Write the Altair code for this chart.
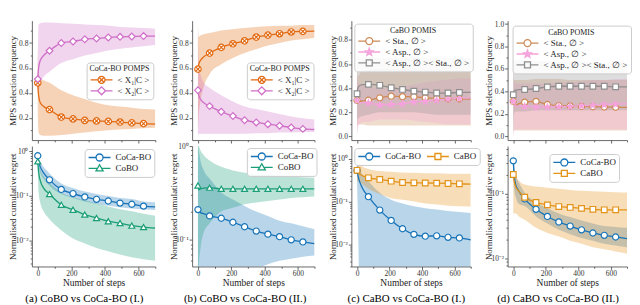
import altair as alt
import pandas as pd

FONT = "Liberation Serif"

STEPS = [0, 5, 15, 35, 70, 140, 210, 280, 350, 420, 490, 560, 630, 700]

# ---------------- (a) top: CoCa-BO POMPS ----------------
A_X1_MEAN = [0.48, 0.38, 0.32, 0.29, 0.265, 0.205, 0.19, 0.178, 0.174, 0.17, 0.165, 0.158, 0.152, 0.148]
A_X1_LO = [0.22, 0.08, 0.06, 0.055, 0.055, 0.06, 0.07, 0.08, 0.09, 0.10, 0.105, 0.11, 0.115, 0.12]
A_X1_HI = [0.76, 0.56, 0.52, 0.50, 0.48, 0.42, 0.38, 0.35, 0.32, 0.30, 0.29, 0.28, 0.27, 0.265]
A_X2_MEAN = [0.51, 0.60, 0.66, 0.70, 0.738, 0.80, 0.813, 0.83, 0.837, 0.845, 0.85, 0.853, 0.856, 0.856]
A_X2_LO = [0.42, 0.42, 0.48, 0.53, 0.57, 0.64, 0.67, 0.70, 0.72, 0.74, 0.755, 0.765, 0.775, 0.785]
A_X2_HI = [0.60, 0.95, 0.96, 0.965, 0.965, 0.96, 0.955, 0.95, 0.945, 0.94, 0.93, 0.925, 0.92, 0.915]

# ---------------- (b) top ----------------
B_X1_MEAN = [0.59, 0.63, 0.66, 0.69, 0.719, 0.765, 0.794, 0.818, 0.848, 0.864, 0.875, 0.889, 0.894, 0.896]
B_X1_LO = [0.10, 0.22, 0.33, 0.45, 0.55, 0.63, 0.68, 0.72, 0.75, 0.78, 0.80, 0.82, 0.83, 0.84]
B_X1_HI = [0.95, 0.85, 0.86, 0.87, 0.88, 0.90, 0.91, 0.92, 0.93, 0.935, 0.94, 0.94, 0.945, 0.945]
B_X2_MEAN = [0.42, 0.38, 0.35, 0.32, 0.293, 0.248, 0.213, 0.18, 0.162, 0.148, 0.135, 0.121, 0.11, 0.105]
B_X2_LO = [0.05, 0.07, 0.07, 0.07, 0.07, 0.07, 0.07, 0.07, 0.075, 0.075, 0.08, 0.08, 0.085, 0.085]
B_X2_HI = [0.90, 0.62, 0.55, 0.48, 0.44, 0.38, 0.33, 0.29, 0.27, 0.25, 0.23, 0.21, 0.195, 0.185]

# ---------------- (c) top: CaBO POMIS ----------------
C_STA_MEAN = [0.30, 0.285, 0.29, 0.295, 0.30, 0.32, 0.334, 0.33, 0.33, 0.32, 0.315, 0.312, 0.312, 0.31]
C_STA_LO = [0.0, 0.10, 0.10, 0.10, 0.09, 0.09, 0.09, 0.09, 0.09, 0.09, 0.09, 0.09, 0.09, 0.09]
C_STA_HI = [0.60, 0.50, 0.52, 0.54, 0.55, 0.56, 0.56, 0.56, 0.56, 0.55, 0.55, 0.55, 0.54, 0.54]
C_ASP_MEAN = [0.30, 0.28, 0.28, 0.28, 0.278, 0.26, 0.265, 0.27, 0.285, 0.29, 0.30, 0.31, 0.315, 0.32]
C_ASP_LO = [0.0, 0.08, 0.10, 0.12, 0.12, 0.14, 0.14, 0.14, 0.13, 0.12, 0.11, 0.10, 0.10, 0.10]
C_ASP_HI = [0.60, 0.45, 0.44, 0.43, 0.42, 0.40, 0.40, 0.41, 0.43, 0.45, 0.46, 0.47, 0.48, 0.48]
C_BOTH_MEAN = [0.354, 0.40, 0.42, 0.43, 0.432, 0.424, 0.404, 0.39, 0.376, 0.368, 0.36, 0.36, 0.365, 0.365]
C_BOTH_LO = [0.0, 0.15, 0.16, 0.17, 0.18, 0.20, 0.20, 0.20, 0.20, 0.19, 0.18, 0.18, 0.18, 0.18]
C_BOTH_HI = [0.70, 0.66, 0.66, 0.66, 0.66, 0.65, 0.65, 0.65, 0.65, 0.65, 0.65, 0.65, 0.65, 0.65]

# ---------------- (d) top ----------------
D_STA_MEAN = [0.312, 0.28, 0.275, 0.29, 0.303, 0.31, 0.282, 0.273, 0.27, 0.265, 0.262, 0.26, 0.258, 0.257]
D_STA_LO = [0.0, 0.05, 0.05, 0.05, 0.05, 0.05, 0.05, 0.05, 0.05, 0.05, 0.05, 0.05, 0.05, 0.05]
D_STA_HI = [0.60, 0.50, 0.50, 0.50, 0.50, 0.51, 0.51, 0.51, 0.50, 0.50, 0.50, 0.50, 0.50, 0.50]
D_ASP_MEAN = [0.31, 0.28, 0.27, 0.265, 0.265, 0.26, 0.26, 0.262, 0.265, 0.27, 0.275, 0.28, 0.285, 0.29]
D_ASP_LO = [0.0, 0.05, 0.06, 0.06, 0.06, 0.06, 0.06, 0.06, 0.06, 0.06, 0.06, 0.06, 0.06, 0.06]
D_ASP_HI = [0.60, 0.48, 0.47, 0.47, 0.47, 0.47, 0.47, 0.48, 0.48, 0.49, 0.50, 0.50, 0.51, 0.51]
D_BOTH_MEAN = [0.37, 0.40, 0.41, 0.415, 0.416, 0.425, 0.439, 0.445, 0.445, 0.445, 0.445, 0.445, 0.44, 0.44]
D_BOTH_LO = [0.0, 0.20, 0.22, 0.22, 0.22, 0.23, 0.23, 0.23, 0.23, 0.23, 0.23, 0.23, 0.23, 0.23]
D_BOTH_HI = [0.70, 0.68, 0.68, 0.68, 0.68, 0.67, 0.67, 0.66, 0.66, 0.66, 0.66, 0.65, 0.65, 0.65]

# ---------------- (a) bottom: regret ----------------
E_COCA_MEAN = [0.8, 0.6, 0.45, 0.33, 0.23, 0.14, 0.113, 0.095, 0.084, 0.077, 0.069, 0.065, 0.059, 0.057]
E_COCA_LO = [0.6, 0.45, 0.33, 0.24, 0.17, 0.11, 0.09, 0.075, 0.066, 0.06, 0.056, 0.052, 0.05, 0.048]
E_COCA_HI = [1.1, 0.8, 0.6, 0.45, 0.32, 0.19, 0.15, 0.125, 0.11, 0.1, 0.09, 0.085, 0.075, 0.072]
E_COBO_MEAN = [0.6, 0.35, 0.22, 0.15, 0.11, 0.063, 0.049, 0.038, 0.032, 0.027, 0.0245, 0.0215, 0.02, 0.019]
E_COBO_LO = [0.35, 0.12, 0.07, 0.045, 0.03, 0.017, 0.011, 0.0085, 0.0068, 0.0057, 0.0048, 0.0042, 0.0038, 0.0035]
E_COBO_HI = [0.9, 0.6, 0.4, 0.28, 0.2, 0.12, 0.095, 0.08, 0.068, 0.058, 0.05, 0.045, 0.04, 0.036]

# ---------------- (b) bottom ----------------
F_COCA_MEAN = [0.21, 0.2, 0.195, 0.19, 0.18, 0.17, 0.154, 0.138, 0.124, 0.115, 0.108, 0.1, 0.095, 0.091]
F_COCA_LO = [0.01, 0.01, 0.01, 0.01, 0.01, 0.02, 0.03, 0.04, 0.048, 0.055, 0.06, 0.063, 0.066, 0.068]
F_COCA_HI = [1.0, 0.9, 0.7, 0.55, 0.45, 0.32, 0.27, 0.23, 0.2, 0.18, 0.16, 0.15, 0.14, 0.13]
F_COBO_MEAN = [0.38, 0.34, 0.35, 0.355, 0.36, 0.35, 0.35, 0.35, 0.35, 0.35, 0.35, 0.35, 0.35, 0.35]
F_COBO_LO = [0.02, 0.05, 0.08, 0.12, 0.15, 0.2, 0.22, 0.24, 0.25, 0.26, 0.27, 0.28, 0.285, 0.29]
F_COBO_HI = [1.0, 1.0, 0.9, 0.8, 0.7, 0.6, 0.55, 0.52, 0.5, 0.49, 0.48, 0.47, 0.465, 0.46]

# ---------------- (c) bottom ----------------
G_COCA_MEAN = [0.54, 0.42, 0.3, 0.2, 0.13, 0.063, 0.036, 0.023, 0.017, 0.0154, 0.0157, 0.0145, 0.014, 0.0126]
G_COCA_LO = [0.3, 0.05, 0.001, 0.001, 0.001, 0.001, 0.001, 0.001, 0.001, 0.001, 0.001, 0.001, 0.001, 0.001]
G_COCA_HI = [1.0, 0.8, 0.6, 0.42, 0.3, 0.16, 0.11, 0.09, 0.078, 0.07, 0.065, 0.06, 0.057, 0.054]
G_CABO_MEAN = [0.54, 0.48, 0.44, 0.4, 0.36, 0.33, 0.30, 0.28, 0.275, 0.272, 0.27, 0.265, 0.26, 0.255]
G_CABO_LO = [0.3, 0.3, 0.28, 0.25, 0.2, 0.15, 0.12, 0.11, 0.1, 0.09, 0.085, 0.08, 0.078, 0.076]
G_CABO_HI = [1.0, 0.85, 0.75, 0.65, 0.58, 0.52, 0.5, 0.48, 0.47, 0.46, 0.46, 0.45, 0.45, 0.45]

# ---------------- (d) bottom ----------------
H_COCA_MEAN = [0.325, 0.2, 0.14, 0.11, 0.084, 0.058, 0.045, 0.037, 0.032, 0.028, 0.025, 0.023, 0.0217, 0.0205]
H_COCA_LO = [0.2, 0.12, 0.09, 0.07, 0.065, 0.045, 0.035, 0.028, 0.024, 0.021, 0.019, 0.017, 0.016, 0.015]
H_COCA_HI = [0.45, 0.3, 0.2, 0.15, 0.105, 0.075, 0.06, 0.05, 0.044, 0.039, 0.035, 0.032, 0.031, 0.03]
H_CABO_MEAN = [0.2, 0.16, 0.13, 0.11, 0.089, 0.074, 0.068, 0.064, 0.062, 0.06, 0.058, 0.057, 0.057, 0.057]
H_CABO_LO = [0.05, 0.05, 0.05, 0.045, 0.04, 0.03, 0.025, 0.022, 0.019, 0.017, 0.015, 0.014, 0.013, 0.012]
H_CABO_HI = [0.3, 0.25, 0.2, 0.16, 0.14, 0.13, 0.125, 0.12, 0.115, 0.112, 0.11, 0.108, 0.106, 0.105]

LBL_X1 = "< X₁|C >"
LBL_X2 = "< X₂|C >"
LBL_STA = "< Sta., ∅ >"
LBL_ASP = "< Asp., ∅ >"
LBL_BOTH = "< Asp., ∅ >< Sta., ∅ >"
LBL_COCA = "CoCa-BO"
LBL_COBO = "CoBO"
LBL_CABO = "CaBO"

CAPTIONS = ["(a) CoBO vs CoCa-BO (I.)", "(b) CoBO vs CoCa-BO (II.)",
            "(c) CaBO vs CoCa-BO (I.)", "(d) CaBO vs CoCa-BO (II.)"]

# colours
C_ORANGE = "#e26a12"
C_MAGENTA = "#cf6fc7"
C_BROWN = "#cd8a57"
C_PINK = "#f5a3dc"
C_GRAY = "#8f8f8f"
C_BLUE = "#1874b8"
C_GREEN = "#1a9e77"
C_YORANGE = "#e39318"

# ---------- legend symbol paths (line + marker), unit = 5 px ----------
LEN = 4.4           # total line length in units (22 px)
CX = -1 + LEN / 2   # marker centre


def _f(v):
    return f"{v:.3f}"


def leg_path(kind):
    def seg(r):
        return f"M-1,0H{_f(CX - r)}M{_f(CX + r)},0H{_f(-1 + LEN)}"
    if kind in ("circle", "circlex"):
        r = 0.7
        p = seg(r) + (f"M{_f(CX + r)},0A{r},{r},0,1,1,{_f(CX - r)},0"
                      f"A{r},{r},0,1,1,{_f(CX + r)},0Z")
        if kind == "circlex":
            q = 0.48
            p += (f"M{_f(CX - q)},{-q}L{_f(CX + q)},{q}"
                  f"M{_f(CX - q)},{q}L{_f(CX + q)},{-q}")
        return p
    if kind == "square":
        s = 0.6
        return seg(s) + f"M{_f(CX - s)},{-s}H{_f(CX + s)}V{s}H{_f(CX - s)}Z"
    if kind == "triangle":
        return seg(0.42) + f"M{_f(CX)},-0.75L{_f(CX + 0.72)},0.5L{_f(CX - 0.72)},0.5Z"
    if kind == "diamond":
        d = 0.8
        return seg(d) + f"M{_f(CX)},{-d}L{_f(CX + d)},0L{_f(CX)},{d}L{_f(CX - d)},0Z"
    if kind == "star":
        pts = [(0, -0.8), (0.19, -0.27), (0.76, -0.25), (0.31, 0.1), (0.47, 0.65),
               (0, 0.33), (-0.47, 0.65), (-0.31, 0.1), (-0.76, -0.25), (-0.19, -0.27)]
        body = "M" + "L".join(f"{_f(CX + x)},{y}" for x, y in pts) + "Z"
        inner = f"M{_f(CX)},-0.4L{_f(CX + 0.15)},0.15L{_f(CX - 0.15)},0.15Z"
        return seg(0.3) + body + inner
    return ""


PLOT_SHAPE = {
    "circle": ("circle", 38, True),
    "circlex": ("M1,0A1,1,0,1,1,-1,0A1,1,0,1,1,1,0ZM-0.7,-0.7L0.7,0.7M-0.7,0.7L0.7,-0.7", 42, True),
    "square": ("square", 32, True),
    "triangle": ("triangle-up", 36, True),
    "diamond": ("diamond", 46, True),
    "star": ("M0,-1L0.24,-0.33L0.95,-0.31L0.39,0.12L0.59,0.81L0,0.41L-0.59,0.81L-0.39,0.12L-0.95,-0.31L-0.24,-0.33Z", 40, False),
}

X_VALUES = [0, 100, 200, 300, 400, 500, 600, 700]


def log_values(lo, hi):
    out = []
    for e in [-3, -2, -1, 0]:
        for k in range(1, 10):
            v = round(k * 10 ** e, 6)
            if lo <= v <= hi:
                out.append(v)
    return out


def make_panel(series, width, height, ydomain, log, yvalues, ymajor, ytitle,
               bottom, legend_kw, caption=None):
    rows = []
    for (name, col, kind, mean, lo, hi) in series:
        for i, st in enumerate(STEPS):
            rows.append(dict(step=st, series=name, mean=mean[i], lo=lo[i], hi=hi[i]))
    df = pd.DataFrame(rows)
    base = alt.Chart(df)

    xscale = alt.Scale(domain=[-35, 700], nice=False, zero=False)
    xaxis = alt.Axis(
        values=X_VALUES, labels=bottom, format="d",
        labelExpr="datum.value % 200 == 0 ? datum.label : ''",
        title="Number of steps" if bottom else None,
        tickSize={"condition": {"test": "datum.value % 200 == 0", "value": 3}, "value": 1.8},
        labelPadding=0, titlePadding=1, labelFontSize=7.5, titleFontSize=9.5,
    )
    if log:
        yscale = alt.Scale(type="log", domain=ydomain, nice=False)
        lexpr = ("datum.value == 1 ? '10⁰' : datum.value == 0.1 ? '10⁻¹' : "
                 "datum.value == 0.01 ? '10⁻²' : ''")
        yaxis = alt.Axis(values=yvalues, labelExpr=lexpr, title=ytitle,
                         tickSize={"condition": {"test": f"indexof({ymajor}, datum.value) >= 0", "value": 3},
                                   "value": 1.6},
                         minExtent=12, maxExtent=12, labelPadding=1, titlePadding=2)
    else:
        yscale = alt.Scale(domain=ydomain, nice=False, zero=False)
        yaxis = alt.Axis(values=yvalues, format=".1f",
                         labelExpr=f"indexof({ymajor}, datum.value) >= 0 ? datum.label : ''",
                         title=ytitle,
                         tickSize={"condition": {"test": f"indexof({ymajor}, datum.value) >= 0", "value": 3},
                                   "value": 1.6},
                         minExtent=12, maxExtent=12, labelPadding=1, titlePadding=2)

    X = alt.X("step:Q", scale=xscale, axis=xaxis)
    areas, lines, points = [], [], []
    for (name, col, kind, mean, lo, hi) in series:
        sub = base.transform_filter(alt.datum.series == name)
        areas.append(sub.mark_area(color=col, opacity=0.3, clip=True, interpolate="monotone").encode(
            x=X, y=alt.Y("lo:Q", scale=yscale, axis=yaxis), y2="hi:Q"))
        lines.append(sub.mark_line(color=col, strokeWidth=1.3, clip=True, interpolate="monotone").encode(
            x=X, y=alt.Y("mean:Q", scale=yscale, axis=yaxis)))
        shp, size, white = PLOT_SHAPE[kind]
        pts = sub.transform_filter("datum.step % 70 == 0 && datum.step < 700")
        points.append(pts.mark_point(shape=shp, size=size, filled=True,
                                     fill="white" if white else col, stroke=col,
                                     strokeWidth=1.2, opacity=1, clip=True).encode(
            x=X, y=alt.Y("mean:Q", scale=yscale, axis=yaxis)))

    names = [s[0] for s in series]
    cols = [s[1] for s in series]
    paths = [leg_path(s[2]) for s in series]
    leg = alt.Legend(symbolSize=100, symbolStrokeWidth=1.3, symbolOpacity=1,
                     symbolOffset=0, labelOffset=16, padding=3, rowPadding=0,
                     clipHeight=11,
                     fillColor="rgba(255,255,255,0.85)", strokeColor="#cccccc",
                     cornerRadius=3, labelFont=FONT, labelFontSize=9, labelColor="#222",
                     titleFont=FONT, titleFontSize=8, titleFontWeight="normal",
                     titleAnchor="middle", titleColor="#222", titlePadding=1, **legend_kw)
    dummy = base.transform_filter("datum.step == 350").mark_point(
        filled=False, opacity=0, clip=True).encode(
        x=X, y=alt.Y("mean:Q", scale=yscale, axis=yaxis),
        color=alt.Color("series:N", scale=alt.Scale(domain=names, range=cols), legend=leg),
        shape=alt.Shape("series:N", scale=alt.Scale(domain=names, range=paths), legend=leg),
    )
    props = dict(width=width, height=height)
    if caption:
        props["title"] = alt.TitleParams(caption, orient="bottom", anchor="middle", frame="bounds",
                                         font=FONT, fontSize=11, fontWeight="normal",
                                         color="#000", offset=6, dx=2)
    return alt.layer(*areas, *lines, *points, dummy).properties(**props)


WIDTHS = [124, 123, 120, 120]
TOP_H = 120
BOT_H = 121
Y_TOP_T = "MPS selection frequency"
Y_BOT_T = "Normalised cumulative regret"
LIN_MINOR = [0.1, 0.2, 0.3, 0.4, 0.5, 0.6, 0.7, 0.8, 0.9]
LIN_MINOR0 = [0.0, 0.1, 0.2, 0.3, 0.4, 0.5, 0.6, 0.7, 0.8, 0.9]
LIN_MINOR1 = [0.0, 0.1, 0.2, 0.3, 0.4, 0.5, 0.6, 0.7, 0.8, 0.9, 1.0]

pa = make_panel([(LBL_X1, C_ORANGE, "circlex", A_X1_MEAN, A_X1_LO, A_X1_HI),
                 (LBL_X2, C_MAGENTA, "diamond", A_X2_MEAN, A_X2_LO, A_X2_HI)],
                WIDTHS[0], TOP_H, [0.02, 0.98], False, LIN_MINOR, [0.2, 0.4, 0.6, 0.8], Y_TOP_T, False,
                dict(orient="none", legendX=55, legendY=42, title="CoCa-BO POMPS"))
pb = make_panel([(LBL_X1, C_ORANGE, "circlex", B_X1_MEAN, B_X1_LO, B_X1_HI),
                 (LBL_X2, C_MAGENTA, "diamond", B_X2_MEAN, B_X2_LO, B_X2_HI)],
                WIDTHS[1], TOP_H, [0.02, 0.98], False, LIN_MINOR, [0.2, 0.4, 0.6, 0.8], Y_TOP_T, False,
                dict(orient="none", legendX=55, legendY=42, title="CoCa-BO POMPS"))
pc = make_panel([(LBL_STA, C_BROWN, "circle", C_STA_MEAN, C_STA_LO, C_STA_HI),
                 (LBL_ASP, C_PINK, "star", C_ASP_MEAN, C_ASP_LO, C_ASP_HI),
                 (LBL_BOTH, C_GRAY, "square", C_BOTH_MEAN, C_BOTH_LO, C_BOTH_HI)],
                WIDTHS[2], TOP_H, [-0.03, 0.96], False, LIN_MINOR0, [0.0, 0.2, 0.4, 0.6, 0.8], Y_TOP_T, False,
                dict(orient="none", legendX=3, legendY=3, title="CaBO POMIS"))
pd_ = make_panel([(LBL_STA, C_BROWN, "circle", D_STA_MEAN, D_STA_LO, D_STA_HI),
                  (LBL_ASP, C_PINK, "star", D_ASP_MEAN, D_ASP_LO, D_ASP_HI),
                  (LBL_BOTH, C_GRAY, "square", D_BOTH_MEAN, D_BOTH_LO, D_BOTH_HI)],
                 WIDTHS[3], TOP_H, [-0.035, 1.03], False, LIN_MINOR1, [0.0, 0.2, 0.4, 0.6, 0.8, 1.0], Y_TOP_T,
                 False, dict(orient="none", legendX=5, legendY=5, title="CaBO POMIS"))

pe = make_panel([(LBL_COCA, C_BLUE, "circle", E_COCA_MEAN, E_COCA_LO, E_COCA_HI),
                 (LBL_COBO, C_GREEN, "triangle", E_COBO_MEAN, E_COBO_LO, E_COBO_HI)],
                WIDTHS[0], BOT_H, [0.0026, 1.32], True, log_values(0.0026, 1.32), [0.01, 0.1, 1],
                Y_BOT_T, True, dict(orient="none", legendX=53, legendY=3, title=None), CAPTIONS[0])
pf = make_panel([(LBL_COCA, C_BLUE, "circle", F_COCA_MEAN, F_COCA_LO, F_COCA_HI),
                 (LBL_COBO, C_GREEN, "triangle", F_COBO_MEAN, F_COBO_LO, F_COBO_HI)],
                WIDTHS[1], BOT_H, [0.052, 1.0], True, log_values(0.052, 1.0), [0.01, 0.1, 1],
                Y_BOT_T, True, dict(orient="none", legendX=55, legendY=2, title=None), CAPTIONS[1])
pg = make_panel([(LBL_COCA, C_BLUE, "circle", G_COCA_MEAN, G_COCA_LO, G_COCA_HI),
                 (LBL_CABO, C_YORANGE, "square", G_CABO_MEAN, G_CABO_LO, G_CABO_HI)],
                WIDTHS[2], BOT_H, [0.003, 2.0], True, log_values(0.003, 2.0), [0.01, 0.1, 1],
                Y_BOT_T, True, dict(orient="none", legendX=3, legendY=2, title=None,
                                    direction="horizontal", columns=2, columnPadding=5), CAPTIONS[2])
ph = make_panel([(LBL_COCA, C_BLUE, "circle", H_COCA_MEAN, H_COCA_LO, H_COCA_HI),
                 (LBL_CABO, C_YORANGE, "square", H_CABO_MEAN, H_CABO_LO, H_CABO_HI)],
                WIDTHS[3], BOT_H, [0.0076, 0.55], True, log_values(0.0076, 0.55), [0.01, 0.1, 1],
                Y_BOT_T, True, dict(orient="none", legendX=42, legendY=8, title=None), CAPTIONS[3])

chart = alt.concat(pa, pb, pc, pd_, pe, pf, pg, ph, columns=4,
                   spacing={"row": 6, "column": 37}, bounds="flush").resolve_scale(
    color="independent", shape="independent", x="independent", y="independent"
).resolve_legend(color="independent", shape="independent").properties(
    padding={"left": 0, "top": 10, "right": 0, "bottom": 0}
).configure(font=FONT).configure_view(stroke="transparent").configure_axis(
    grid=False, labelFont=FONT, titleFont=FONT, labelFontSize=7.5, titleFontSize=9,
    titleFontWeight="normal", labelColor="#333", titleColor="#222", domainColor="#444",
    tickColor="#444", domainWidth=0.8, tickWidth=0.8
)

chart.save("out.html", embed_options={"renderer": "svg", "actions": False})
